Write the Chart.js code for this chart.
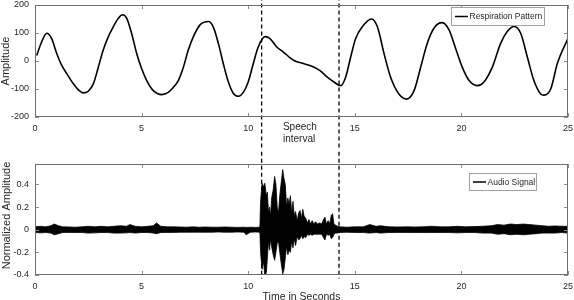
<!DOCTYPE html>
<html>
<head>
<meta charset="utf-8">
<script src="https://cdn.jsdelivr.net/npm/chart.js@4.4.1/dist/chart.umd.min.js"></script>
<style>
  html, body { margin: 0; padding: 0; background: #fff; }
  #wrap { position: relative; width: 574px; height: 300px; overflow: hidden; }
  canvas { position: absolute; left: 0; }
  #resp { top: 0; }
  #audio { top: 150px; }
</style>
</head>
<body>
<div id="wrap">
  <canvas id="resp" width="574" height="150"></canvas>
  <canvas id="audio" width="574" height="150"></canvas>
</div>
<script>
// ── Data ──────────────────────────────────────────────────────────────────
const xTicks     = [0, 5, 10, 15, 20, 25];
const respTicks  = [-200, -100, 0, 100, 200];
const audioTicks = [-0.4, -0.2, 0, 0.2, 0.4];
const speechBounds = [10.63, 14.26];   // dashed lines, seconds

const respTime = [0.08, 0.31, 0.55, 0.78, 1.02, 1.25, 1.49, 1.80, 2.11, 2.27, 2.50, 2.74, 2.97, 3.20,
  3.44, 3.67, 3.91, 4.11, 4.30, 4.53, 4.77, 5.00, 5.24, 5.55, 5.94, 6.25, 6.49, 6.72, 6.96, 7.19,
  7.43, 7.74, 8.13, 8.36, 8.60, 8.83, 9.07, 9.30, 9.54, 9.77, 10.00, 10.24, 10.47, 10.79, 11.02,
  11.34, 11.65, 11.91, 12.15, 12.62, 13.09, 13.40, 13.71, 14.02, 14.34, 14.57, 14.81, 15.04, 15.35,
  15.78, 16.06, 16.37, 16.68, 17.07, 17.43, 17.78, 18.09, 18.40, 18.71, 19.10, 19.42, 19.73, 20.04,
  20.36, 20.75, 21.06, 21.45, 21.84, 22.15, 22.47, 22.78, 23.09, 23.40, 23.72, 23.87, 24.19, 24.50, 25.00];
const respAmp = [20, 68, 99, 80, 27, -15, -45, -81, -108, -114, -108, -81, -22, 39,
  87, 122, 153, 165, 153, 99, 27, -27, -70, -106, -120, -112, -94, -70, -22, 39,
  87, 129, 141, 122, 63, -9, -75, -115, -126, -112, -75, -9, 50, 87, 80,
  50, 32, 15, 2, -10, -22, -36, -58, -75, -88, -58, 15, 80, 122,
  150, 122, 27, -58, -118, -136, -106, -22, 63, 117, 137, 111, 45, -22,
  -70, -88, -75, -22, 63, 105, 123, 99, 15, -70, -118, -122, -100, -9, 81];

// audio drawn as its envelope (upper / lower edge of the dense trace)
const audioTime = [0, 0.25, 0.5, 0.75, 0.9, 1.1, 1.3, 1.6, 1.9, 2.2, 2.5, 2.8, 3.1, 3.4, 3.7, 4.0,
  4.3, 4.45, 4.7, 5.0, 5.3, 5.55, 5.7, 5.9, 6.2, 6.5, 6.8, 7.1, 7.4, 7.7, 8.0, 8.3, 8.6, 8.9, 9.2,
  9.5, 9.8, 9.9, 10.1, 10.35, 10.5,
  10.55, 10.58, 10.65, 10.72, 10.78, 10.85, 10.9, 10.95, 11.0, 11.05,
  11.1, 11.17, 11.24, 11.3, 11.36, 11.42, 11.48, 11.55, 11.62, 11.68,
  11.74, 11.8, 11.86, 11.92, 11.98, 12.04, 12.1, 12.16, 12.22, 12.3,
  12.37, 12.43, 12.5, 12.56, 12.62, 12.7, 12.78, 12.85, 12.92, 13.0,
  13.08, 13.16, 13.25, 13.35, 13.45, 13.53, 13.6, 13.67, 13.75, 13.82,
  13.9, 13.96, 14.02, 14.1, 14.2,
  14.3, 14.6, 15.0, 15.4, 15.7, 16.0, 16.2, 16.6, 17.0, 17.4, 17.8, 18.2, 18.6, 19.0, 19.4, 19.8,
  20.2, 20.6, 21.0, 21.4, 21.7, 22.0, 22.3, 22.6, 22.9, 23.2, 23.5, 23.8, 24.1, 24.4, 24.7, 25.0];
const audioUpper = [0.025, 0.03, 0.025, 0.035, 0.05, 0.035, 0.025, 0.024, 0.022, 0.025, 0.03, 0.025, 0.03, 0.025, 0.03, 0.035,
  0.03, 0.045, 0.03, 0.025, 0.03, 0.035, 0.06, 0.03, 0.025, 0.025, 0.024, 0.022, 0.025, 0.022, 0.024, 0.022, 0.022, 0.024, 0.022,
  0.02, 0.022, 0.02, 0.022, 0.02, 0.022,
  0.03, 0.25, 0.41, 0.38, 0.41, 0.3, 0.33, 0.15, 0.2, 0.12,
  0.28, 0.35, 0.47, 0.4, 0.2, 0.15, 0.3, 0.42, 0.53, 0.45,
  0.4, 0.2, 0.28, 0.22, 0.3, 0.15, 0.25, 0.12, 0.16, 0.08,
  0.15, 0.17, 0.1, 0.18, 0.12, 0.1, 0.06, 0.09, 0.05, 0.08,
  0.05, 0.07, 0.05, 0.06, 0.05, 0.09, 0.11, 0.05, 0.08, 0.05,
  0.13, 0.14, 0.05, 0.04, 0.03,
  0.025, 0.022, 0.025, 0.025, 0.045, 0.03, 0.035, 0.025, 0.024, 0.025, 0.024, 0.025, 0.03, 0.025, 0.025, 0.03,
  0.025, 0.028, 0.03, 0.035, 0.045, 0.04, 0.05, 0.045, 0.05, 0.045, 0.04, 0.035, 0.03, 0.033, 0.03, 0.03];
const audioLower = [-0.025, -0.028, -0.025, -0.03, -0.045, -0.035, -0.025, -0.024, -0.025, -0.025, -0.03, -0.028, -0.025, -0.025, -0.03, -0.03,
  -0.028, -0.025, -0.03, -0.025, -0.025, -0.03, -0.035, -0.025, -0.024, -0.024, -0.022, -0.022, -0.022, -0.022, -0.022, -0.022, -0.02, -0.022, -0.022,
  -0.02, -0.022, -0.045, -0.022, -0.02, -0.022,
  -0.03, -0.2, -0.35, -0.28, -0.41, -0.38, -0.25, -0.1, -0.18, -0.08,
  -0.15, -0.22, -0.27, -0.2, -0.12, -0.1, -0.2, -0.3, -0.39, -0.35,
  -0.25, -0.15, -0.22, -0.18, -0.2, -0.1, -0.16, -0.08, -0.14, -0.06,
  -0.09, -0.08, -0.05, -0.08, -0.06, -0.07, -0.04, -0.05, -0.04, -0.05,
  -0.04, -0.04, -0.04, -0.04, -0.04, -0.07, -0.09, -0.04, -0.05, -0.04,
  -0.08, -0.07, -0.04, -0.03, -0.03,
  -0.025, -0.022, -0.024, -0.025, -0.03, -0.025, -0.03, -0.025, -0.024, -0.024, -0.025, -0.025, -0.025, -0.025, -0.025, -0.028,
  -0.025, -0.025, -0.03, -0.03, -0.04, -0.035, -0.045, -0.04, -0.045, -0.04, -0.035, -0.03, -0.03, -0.03, -0.025, -0.03];

// ── Styling ───────────────────────────────────────────────────────────────
const FONT = '"Liberation Sans", Arial, Helvetica, sans-serif';
const TEXT = '#262626';

const pts = (xs, ys) => xs.map((x, i) => ({ x, y: ys[i] }));

function dashedLine(t, yTop, yBottom) {
  return {
    data: [{ x: t, y: yTop }, { x: t, y: yBottom }],
    borderColor: '#000', borderWidth: 1.3, borderDash: [4, 3],
    pointRadius: 0, clip: false, tension: 0
  };
}

function baseOptions(yMin, yMax, yTickVals, padTop, xHeight) {
  return {
    responsive: false,
    animation: false,
    devicePixelRatio: 1,
    layout: { padding: { top: padTop, right: 6, left: 0, bottom: 0 } },
    plugins: { legend: { display: false }, tooltip: { enabled: false } },
    elements: { point: { radius: 0 } },
    scales: {
      x: {
        type: 'linear', min: 0, max: 25,
        afterBuildTicks: s => { s.ticks = xTicks.map(v => ({ value: v })); },
        afterFit: s => { s.height = xHeight; s.paddingLeft = 0; s.paddingRight = 0; },
        grid: { display: false, drawTicks: false },
        border: { display: false },
        ticks: { padding: 6, maxRotation: 0, font: { family: FONT, size: 9 }, color: TEXT }
      },
      y: {
        min: yMin, max: yMax,
        afterBuildTicks: s => { s.ticks = yTickVals.map(v => ({ value: v })); },
        afterFit: s => { s.width = 35; s.paddingTop = 0; s.paddingBottom = 0; },
        grid: { display: false, drawTicks: false },
        border: { display: false },
        ticks: { padding: 6, font: { family: FONT, size: 9 }, color: TEXT }
      }
    }
  };
}

// frame, inward ticks, axis titles, legend box
function decor(cfg) {
  return {
    id: 'decor',
    afterDatasetsDraw(chart) {
      const { ctx, chartArea: a, scales: { x, y } } = chart;
      ctx.save();
      ctx.strokeStyle = '#8c8c8c';
      ctx.lineWidth = 1;
      ctx.beginPath();
      x.ticks.forEach(t => {
        const px = Math.round(x.getPixelForValue(t.value)) + 0.5;
        ctx.moveTo(px, a.bottom); ctx.lineTo(px, a.bottom - 4);
        ctx.moveTo(px, a.top); ctx.lineTo(px, a.top + 4);
      });
      y.ticks.forEach(t => {
        const py = Math.round(y.getPixelForValue(t.value)) + 0.5;
        ctx.moveTo(a.left, py); ctx.lineTo(a.left + 4, py);
        ctx.moveTo(a.right, py); ctx.lineTo(a.right - 4, py);
      });
      ctx.stroke();
      ctx.strokeStyle = '#6e6e6e';
      ctx.strokeRect(a.left + 0.5, a.top + 0.5, a.width - 1, a.height - 1);

      // y title
      ctx.fillStyle = TEXT;
      ctx.font = `11px ${FONT}`;
      ctx.textAlign = 'center';
      ctx.textBaseline = 'middle';
      ctx.save();
      ctx.translate(cfg.yTitleX, (a.top + a.bottom) / 2 + cfg.yTitleShift);
      ctx.rotate(-Math.PI / 2);
      ctx.fillText(cfg.yTitle, 0, 0);
      ctx.restore();

      if (cfg.xTitle) {
        ctx.font = `10.5px ${FONT}`;
        ctx.textBaseline = 'alphabetic';
        ctx.fillText(cfg.xTitle, (a.left + a.right) / 2, cfg.xTitleY);
      }
      if (cfg.note) {
        ctx.font = `10px ${FONT}`;
        ctx.textAlign = 'left';
        ctx.textBaseline = 'middle';
        const nx = x.getPixelForValue(cfg.note.at);
        cfg.note.lines.forEach((s, i) => ctx.fillText(s, nx, cfg.note.y + i * 12));
      }

      // legend
      const L = cfg.legend;
      ctx.fillStyle = '#fff';
      ctx.fillRect(L.x, L.y, L.w, L.h);
      ctx.strokeStyle = '#a0a0a0';
      ctx.strokeRect(L.x + 0.5, L.y + 0.5, L.w - 1, L.h - 1);
      const ly = L.y + L.h / 2;
      ctx.strokeStyle = '#000';
      ctx.lineWidth = 1.5;
      ctx.beginPath();
      ctx.moveTo(L.x + 4, ly); ctx.lineTo(L.x + 17, ly);
      ctx.stroke();
      ctx.fillStyle = TEXT;
      ctx.font = `8.5px ${FONT}`;
      ctx.textAlign = 'left';
      ctx.textBaseline = 'middle';
      ctx.fillText(L.text, L.x + 18.5, ly + 0.5);
      ctx.restore();
    }
  };
}

// ── Respiration pattern ───────────────────────────────────────────────────
new Chart(document.getElementById('resp'), {
  type: 'line',
  data: {
    datasets: [
      {
        label: 'Respiration Pattern',
        data: pts(respTime, respAmp),
        borderColor: '#000', borderWidth: 1.6,
        pointRadius: 0, cubicInterpolationMode: 'monotone'
      },
      dashedLine(speechBounds[0], 230, -340),
      dashedLine(speechBounds[1], 230, -340)
    ]
  },
  options: baseOptions(-200, 200, respTicks, 5, 33),
  plugins: [decor({
    yTitle: 'Amplitude', yTitleX: 6, yTitleShift: 0,
    note: { at: 11.63, y: 127, lines: ['Speech', 'interval'] },
    legend: { x: 451, y: 7, w: 94, h: 19, text: 'Respiration Pattern' }
  })]
});

// ── Audio signal ──────────────────────────────────────────────────────────
new Chart(document.getElementById('audio'), {
  type: 'line',
  data: {
    datasets: [
      {
        label: 'Audio Signal',
        data: pts(audioTime, audioUpper),
        borderColor: '#000', backgroundColor: '#000', borderWidth: 0.8,
        pointRadius: 0, tension: 0, fill: 1
      },
      {
        data: pts(audioTime, audioLower),
        borderColor: '#000', borderWidth: 0.8,
        pointRadius: 0, tension: 0
      },
      dashedLine(speechBounds[0], 0.75, -0.43),
      dashedLine(speechBounds[1], 0.75, -0.43)
    ]
  },
  options: baseOptions(-0.4, 0.58, audioTicks, 14, 25),
  plugins: [decor({
    yTitle: 'Normalized Amplitude', yTitleX: 7, yTitleShift: -4,
    xTitle: 'Time in Seconds', xTitleY: 149.5,
    legend: { x: 469, y: 23, w: 68, h: 18, text: 'Audio Signal' }
  })]
});
</script>
</body>
</html>
